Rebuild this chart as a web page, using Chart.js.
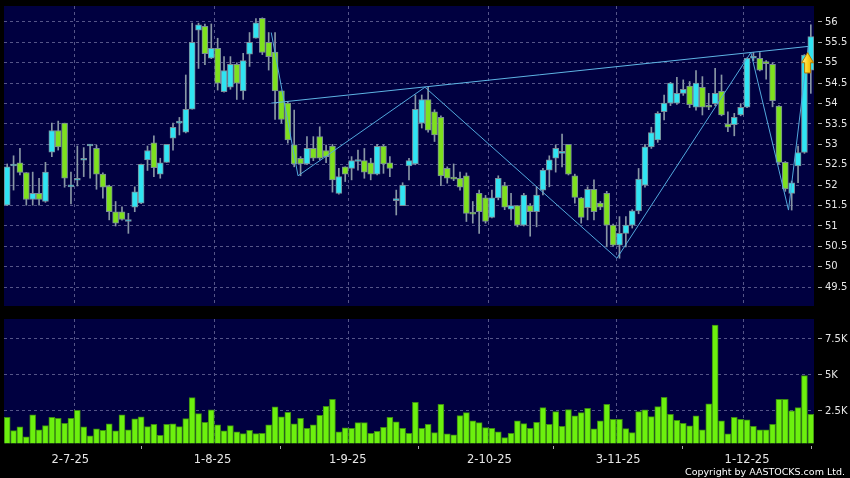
<!DOCTYPE html>
<html>
<head>
<meta charset="utf-8">
<script src="https://cdn.jsdelivr.net/npm/chart.js@4.4.1/dist/chart.umd.min.js"></script>
<style>
  body { margin: 0; background: #000; }
  #wrap { position: relative; width: 850px; height: 478px; background: #000; overflow: hidden; }
  canvas { position: absolute; left: 0; }
  #price { top: 0; }
  #vol { top: 310px; }
  #copy { position: absolute; right: 5px; top: 466px; color: #fff; font: 9.5px "DejaVu Sans", sans-serif; white-space: nowrap; }
</style>
</head>
<body>
<div id="wrap">
  <canvas id="price" width="850" height="312"></canvas>
  <canvas id="vol" width="850" height="168"></canvas>
  <div id="copy">Copyright by AASTOCKS.com Ltd.</div>
</div>
<script>
"use strict";

// daily candles, one per trading day (index 0 = first bar on the left)
const opens = [
  51.51,52.47,52.55,52.31,51.65,51.80,51.60,52.81,53.34,53.52,
  51.96,52.12,52.61,52.96,52.90,52.27,51.98,51.35,51.35,51.11,
  51.46,51.56,52.62,53.04,52.27,52.56,53.15,53.52,53.30,53.86,
  55.80,55.89,55.11,55.35,54.29,54.40,54.96,54.31,55.21,55.60,
  56.09,55.50,55.26,54.31,54.01,52.99,52.66,52.52,52.90,53.19,
  52.85,52.96,51.80,52.45,52.41,52.58,52.60,52.55,52.27,52.96,
  52.55,51.62,51.50,52.47,52.52,53.52,54.10,53.80,53.66,52.41,
  52.19,52.17,52.23,51.33,51.80,51.69,51.21,51.69,51.99,51.41,
  51.50,51.02,51.50,51.35,51.88,52.37,52.66,52.78,53.00,52.23,
  51.69,51.45,51.90,51.56,51.80,51.02,50.53,50.82,51.02,51.37,
  52.00,52.94,53.11,53.80,54.01,54.01,54.25,54.43,53.91,54.40,
  53.95,54.00,54.30,53.50,53.48,53.72,53.91,55.11,55.11,55.02,
  54.96,53.94,52.56,51.80,52.47,52.80,54.82
];
const highs = [
  52.52,52.72,52.90,52.31,52.32,52.17,52.56,53.52,53.57,53.52,
  52.32,52.96,52.92,53.00,52.98,52.30,52.00,51.60,51.47,51.31,
  51.96,52.52,52.96,53.21,52.66,53.00,53.52,53.66,54.70,55.97,
  55.97,55.95,55.95,55.60,55.15,55.15,55.00,55.23,55.74,56.08,
  56.10,55.74,55.74,54.31,54.05,53.84,52.70,53.19,53.19,53.43,
  52.98,53.00,52.41,52.45,52.70,52.86,52.90,52.66,53.00,52.99,
  52.70,51.88,52.06,52.66,54.21,54.21,54.40,53.85,53.70,52.45,
  52.52,52.32,52.30,51.60,51.88,51.75,51.88,52.23,52.07,51.80,
  51.50,51.80,51.55,51.96,52.41,52.72,52.99,53.25,53.00,52.27,
  51.70,51.96,52.13,51.60,51.85,51.05,51.23,51.23,51.40,52.41,
  53.00,53.42,53.80,54.21,54.52,54.64,54.58,54.54,54.81,54.66,
  54.25,54.86,54.70,53.80,53.76,54.00,55.12,55.25,55.25,55.05,
  55.00,53.95,52.58,52.10,52.96,55.20,55.93
];
const lows = [
  51.50,51.88,52.25,51.51,51.51,51.51,51.58,52.70,52.86,51.95,
  51.54,51.98,52.21,52.17,51.90,51.68,51.15,51.00,51.14,50.82,
  51.35,51.55,52.36,52.21,52.17,52.56,52.86,53.23,53.28,53.86,
  54.86,54.95,55.10,54.33,54.28,54.35,54.10,54.10,54.91,55.60,
  55.20,54.82,53.61,53.52,53.03,52.45,52.23,52.50,52.60,52.62,
  52.55,51.83,51.78,52.09,52.13,52.37,52.17,52.13,52.25,52.29,
  52.21,51.27,51.50,52.13,52.50,53.40,53.30,53.07,51.99,52.05,
  52.11,51.88,51.11,51.07,50.82,51.07,51.20,51.64,51.40,51.15,
  50.98,51.00,50.75,50.98,51.76,51.96,52.32,52.45,52.25,51.56,
  51.07,51.15,51.15,51.40,50.49,50.50,50.21,50.49,50.95,51.30,
  51.95,52.90,53.05,53.60,53.95,53.98,54.20,53.90,53.84,53.72,
  53.85,53.95,53.70,53.31,53.21,53.70,53.90,55.05,54.80,54.60,
  53.92,52.50,51.85,51.39,52.06,52.78,54.25
];
const closes = [
  52.45,52.51,52.31,51.65,51.80,51.65,52.32,53.34,52.94,52.17,
  52.00,52.16,52.65,53.00,52.27,51.95,51.35,51.07,51.16,51.15,
  51.84,52.51,52.85,52.43,52.55,53.00,53.42,53.56,53.86,55.50,
  55.93,55.22,55.35,54.50,54.81,54.96,54.50,55.05,55.50,55.98,
  55.25,55.15,54.31,53.61,53.11,52.52,52.52,52.90,52.66,52.66,
  52.70,52.13,52.21,52.27,52.60,52.62,52.32,52.27,52.95,52.52,
  52.41,51.66,52.00,52.60,53.86,54.10,53.35,53.23,52.23,52.17,
  52.15,51.95,51.31,51.29,51.35,51.11,51.69,52.17,51.46,51.50,
  51.02,51.76,51.35,51.76,52.37,52.62,52.90,52.82,52.27,51.70,
  51.21,51.90,51.35,51.46,51.02,50.53,50.82,51.02,51.37,52.15,
  52.94,53.29,53.76,54.01,54.50,54.25,54.35,53.97,54.50,53.91,
  53.91,54.25,53.72,53.42,53.66,53.91,55.11,55.15,54.82,54.98,
  54.07,52.56,51.91,52.06,52.80,55.19,55.64
];
const volumes = [
  2060,1134,1389,695,2222,1181,1482,2060,1991,1644,
  1991,2547,1389,764,1250,1158,1597,1111,2222,1181,
  1945,2084,1412,1574,810,1574,1597,1412,1968,3426,
  2315,1713,2570,1528,1111,1482,1042,926,1158,926,
  949,1528,2778,2084,2408,1597,1991,1296,1528,2199,
  2824,3310,1042,1320,1296,1690,1690,949,1088,1366,
  2060,1736,1296,949,3102,1296,1574,995,2963,903,
  833,2176,2384,1806,1690,1343,1296,1042,648,949,
  1806,1621,1296,1713,2732,1574,2454,1435,2593,2153,
  2384,2685,1250,1806,2963,1921,1921,1273,995,2454,
  2570,2107,2801,3449,2269,1852,1644,1458,2153,1181,
  2986,8473,1806,903,2060,1921,1875,1435,1181,1181,
  1574,3310,3310,2500,2732,4954,2269
];

// drawn lines (bar index, price)
const zigzagX = [41.4, 45.6, 65.5, 95.6, 116.6, 122.5, 125.6];
const zigzagY = [55.74, 52.23, 54.40, 50.21, 55.25, 51.39, 55.40];
const trendX = [41.4, 125.6];
const trendY = [54.01, 55.40];
const arrowAt = [125.5, 55.25, 54.75]; // bar index, tip price, tail price

// axes
const dateLabels = ['2-7-25', '1-8-25', '1-9-25', '2-10-25', '3-11-25', '1-12-25'];
const dateTickAt = [9.9, 32.2, 53.4, 75.6, 95.8, 116.0];
const dateGridAt = [10.5, 32.5, 53.5, 75.4, 95.5, 115.4];
const priceTicks = [49.5, 50, 50.5, 51, 51.5, 52, 52.5, 53, 53.5, 54, 54.5, 55, 55.5, 56];
const volTicks = [2500, 5000, 7500];

const NAVY = '#000040';
const GRID = '#555588';
const UP = '#30e4f2';
const DOWN = '#7ee01e';
const TEXT = '#e6e6e6';

Chart.defaults.font.family = '"DejaVu Sans", sans-serif';

const panelBg = {
  id: 'panelBg',
  beforeDraw(chart) {
    const { ctx, chartArea: a } = chart;
    ctx.save();
    ctx.fillStyle = '#000';
    ctx.fillRect(0, 0, chart.width, chart.height);
    ctx.fillStyle = NAVY;
    ctx.fillRect(a.left, a.top, a.right - a.left, a.bottom - a.top);
    ctx.restore();
  }
};

// dashed vertical lines at the month boundaries, kept inside the plot
const dateGrid = {
  id: 'dateGrid',
  beforeDatasetsDraw(chart) {
    const { ctx, chartArea: a, scales } = chart;
    ctx.save();
    ctx.beginPath();
    ctx.rect(a.left, a.top, a.right - a.left, a.bottom - a.top);
    ctx.clip();
    ctx.strokeStyle = GRID;
    ctx.lineWidth = 1;
    ctx.setLineDash([3, 3]);
    dateGridAt.forEach(v => {
      const px = Math.round(scales.x.getPixelForValue(v)) + 0.5;
      ctx.beginPath();
      ctx.moveTo(px, a.top);
      ctx.lineTo(px, a.bottom);
      ctx.stroke();
    });
    ctx.restore();
  }
};

const arrowMark = {
  id: 'arrowMark',
  afterDatasetsDraw(chart) {
    const { ctx, scales } = chart;
    const cx = scales.x.getPixelForValue(arrowAt[0]);
    const tip = scales.y.getPixelForValue(arrowAt[1]);
    const tail = scales.y.getPixelForValue(arrowAt[2]);
    const headH = (tail - tip) * 0.5, hw = 6, sw = 3;
    ctx.save();
    const g = ctx.createLinearGradient(cx - hw, 0, cx + hw, 0);
    g.addColorStop(0, '#fff3a0');
    g.addColorStop(0.5, '#ffd31c');
    g.addColorStop(1, '#e89a00');
    ctx.beginPath();
    ctx.moveTo(cx, tip);
    ctx.lineTo(cx + hw, tip + headH);
    ctx.lineTo(cx + sw, tip + headH);
    ctx.lineTo(cx + sw, tail);
    ctx.lineTo(cx - sw, tail);
    ctx.lineTo(cx - sw, tip + headH);
    ctx.lineTo(cx - hw, tip + headH);
    ctx.closePath();
    ctx.fillStyle = g;
    ctx.fill();
    ctx.strokeStyle = '#b07800';
    ctx.lineWidth = 1;
    ctx.stroke();
    ctx.restore();
  }
};

// right axis: fixed width, and no extra room reserved for the end labels
const fitRight = (s) => { s.width = 36; s.paddingTop = 0; s.paddingBottom = 0; };

const candleColor = (c) => closes[c.dataIndex] >= opens[c.dataIndex] ? UP : DOWN;
const xMin = -0.5, xMax = opens.length - 0.5;

new Chart(document.getElementById('price'), {
  type: 'bar',
  data: {
    datasets: [
      {
        type: 'line', data: zigzagX.map((x, i) => ({ x: x, y: zigzagY[i] })),
        borderColor: '#52a8dc', borderWidth: 1, pointRadius: 0, order: 0
      },
      {
        type: 'line', data: trendX.map((x, i) => ({ x: x, y: trendY[i] })),
        borderColor: '#5eb4e4', borderWidth: 1, pointRadius: 0, order: 0
      },
      {
        data: opens.map((o, i) => ({ x: i, y: [o, closes[i]] })),
        backgroundColor: candleColor, borderColor: '#7a8c98', borderWidth: 1,
        borderSkipped: false, barThickness: 6, minBarLength: 2, grouped: false, order: 1
      },
      {
        data: lows.map((l, i) => ({ x: i, y: [l, highs[i]] })),
        backgroundColor: '#8896a4', borderWidth: 0, barThickness: 1, grouped: false, order: 2
      }
    ]
  },
  options: {
    responsive: false,
    animation: false,
    layout: { padding: { left: 4, top: 6, right: 0, bottom: 6 } },
    plugins: { legend: { display: false }, tooltip: { enabled: false } },
    scales: {
      x: { type: 'linear', display: false, min: xMin, max: xMax, offset: false },
      y: {
        position: 'right', min: 49.04, max: 56.39,
        afterBuildTicks: (s) => { s.ticks = priceTicks.map(v => ({ value: v })); },
        afterFit: fitRight,
        ticks: { color: TEXT, font: { size: 10 }, padding: 3, callback: (v) => String(v) },
        grid: { color: GRID, tickColor: '#aaaaaa', tickLength: 8, tickBorderDash: [4, 4], tickBorderDashOffset: 4 },
        border: { display: false, dash: [3, 3] }
      }
    }
  },
  plugins: [panelBg, dateGrid, arrowMark]
});

new Chart(document.getElementById('vol'), {
  type: 'bar',
  data: {
    datasets: [{
      data: volumes.map((v, i) => ({ x: i, y: v })),
      backgroundColor: '#6cf00e', borderColor: '#3c8c12', borderWidth: 1, barThickness: 6
    }]
  },
  options: {
    responsive: false,
    animation: false,
    layout: { padding: { left: 4, top: 9, right: 0, bottom: 7.7 } },
    plugins: { legend: { display: false }, tooltip: { enabled: false } },
    scales: {
      x: {
        type: 'linear', min: xMin, max: xMax, offset: false,
        afterBuildTicks: (s) => { s.ticks = dateTickAt.map(v => ({ value: v })); },
        ticks: { color: TEXT, font: { size: 11.5 }, padding: 3.6, autoSkip: false, maxRotation: 0,
                 callback: (v, idx) => dateLabels[idx] },
        grid: { drawOnChartArea: false, tickColor: '#aaaaaa', tickLength: 6, tickBorderDash: [3, 3], tickBorderDashOffset: 3 },
        border: { display: false }
      },
      y: {
        position: 'right', min: 250, max: 8890, beginAtZero: false,
        afterBuildTicks: (s) => { s.ticks = volTicks.map(v => ({ value: v })); },
        afterFit: fitRight,
        ticks: { color: TEXT, font: { size: 10 }, padding: 3, callback: (v) => (v / 1000) + 'K' },
        grid: { color: GRID, tickColor: '#aaaaaa', tickLength: 8, tickBorderDash: [4, 4], tickBorderDashOffset: 4 },
        border: { display: false, dash: [3, 3] }
      }
    }
  },
  plugins: [panelBg, dateGrid]
});
</script>
</body>
</html>
